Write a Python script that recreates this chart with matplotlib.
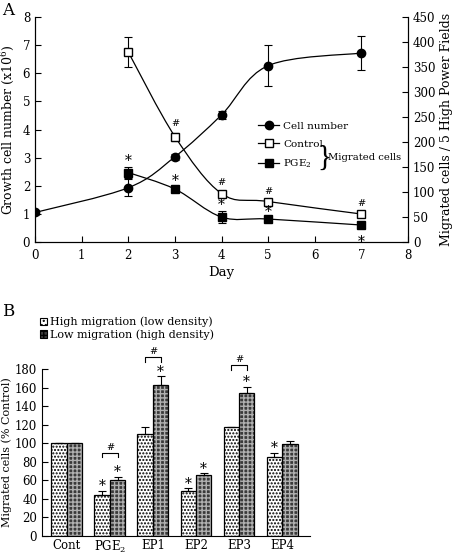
import numpy as np
import matplotlib
matplotlib.use("Agg")
import matplotlib.pyplot as plt
from matplotlib.path import Path
from matplotlib.patches import PathPatch, Patch
from matplotlib.lines import Line2D

plt.rcParams['font.family'] = 'DejaVu Serif'
plt.rcParams['mathtext.fontset'] = 'dejavuserif'

# ---- panel A data ----
days_cell = [0, 2, 3, 4, 5, 7]
cell_number = [1.05, 1.93, 3.03, 4.52, 6.27, 6.72]
cell_err = [0.08, 0.3, 0.1, 0.15, 0.72, 0.6]

days_mig = [2, 3, 4, 5, 7]
control = [380, 211, 97, 81, 56]
control_err = [30, 8, 4, 3, 3]
pge2 = [139, 106, 50, 46, 34]
pge2_err = [11, 5, 12, 3, 3]

# ---- panel B data ----
groups = ['Cont', 'PGE$_2$', 'EP1', 'EP2', 'EP3', 'EP4']
high_mig = [100, 44, 110, 49, 117, 85]
high_err = [0, 5, 8, 3, 1, 5]
low_mig = [100, 60, 163, 66, 154, 99]
low_err = [0, 4, 9, 2, 7, 3]
star_high = [False, True, False, True, False, True]
star_low = [False, True, True, True, True, False]
bracket_groups = [1, 2, 4]
bracket_level = [90, 193, 184]


def smooth_path(x, y):
    # excel-like smoothed line (bezier through the points)
    p = np.column_stack([x, y]).astype(float)
    verts = [p[0]]
    codes = [Path.MOVETO]
    n = len(p)
    for i in range(n - 1):
        p0 = p[i - 1] if i > 0 else p[i]
        p3 = p[i + 2] if i + 2 < n else p[i + 1]
        c1 = p[i] + (p[i + 1] - p0) / 6
        c2 = p[i + 1] - (p3 - p[i]) / 6
        verts += [c1, c2, p[i + 1]]
        codes += [Path.CURVE4] * 3
    return Path(verts, codes)


fig = plt.figure(figsize=(4.54, 5.56), dpi=100)

# ================= Panel A =================
ax = fig.add_axes([0.0771, 0.5647, 0.8216, 0.4047])
ax2 = ax.twinx()

ax.add_patch(PathPatch(smooth_path(days_cell, cell_number), fill=False,
                       lw=0.9, color='black'))
ax.errorbar(days_cell, cell_number, yerr=cell_err, fmt='o', color='black',
            ms=6, capsize=3, elinewidth=0.8, capthick=0.8)

ax2.add_patch(PathPatch(smooth_path(days_mig, control), fill=False,
                        lw=0.9, color='black'))
ax2.add_patch(PathPatch(smooth_path(days_mig, pge2), fill=False,
                        lw=0.9, color='black'))
ax2.errorbar(days_mig, control, yerr=control_err, fmt='s', mfc='white',
             mec='black', color='black', ms=6, capsize=3, elinewidth=0.8,
             capthick=0.8)
ax2.errorbar(days_mig, pge2, yerr=pge2_err, fmt='s', color='black',
             ms=6, capsize=3, elinewidth=0.8, capthick=0.8)

for d, v, e in zip(days_mig[1:], control[1:], control_err[1:]):
    ax2.annotate('#', (d, v + e), xytext=(0, 3), textcoords='offset points',
                 ha='center', va='bottom', fontsize=7)
for d, v, e in zip(days_mig[:-1], pge2[:-1], pge2_err[:-1]):
    ax2.annotate('*', (d, v + e), xytext=(0, -1), textcoords='offset points',
                 ha='center', va='bottom', fontsize=10)
ax2.annotate('*', (days_mig[-1], pge2[-1]), xytext=(0, -7),
             textcoords='offset points', ha='center', va='top', fontsize=10)

ax.set_xlim(0, 8)
ax.set_ylim(0, 8)
ax2.set_ylim(0, 450)
ax.set_xticks(range(0, 9))
ax.set_yticks(range(0, 9))
ax2.set_yticks(range(0, 451, 50))
for a in (ax, ax2):
    a.spines['top'].set_visible(False)
    a.tick_params(direction='in', length=4, width=0.8, labelsize=8.5)
ax.tick_params(axis='x', pad=5)
ax.set_xlabel('Day', fontsize=9.5, labelpad=3)
ax.set_ylabel('Growth cell number (x10$^6$)', fontsize=9, labelpad=5)
ax2.set_ylabel('Migrated cells / 5 High Power Fields', fontsize=9,
               labelpad=3)

handles = [
    Line2D([], [], color='black', marker='o', ms=6, lw=0.9),
    Line2D([], [], color='black', marker='s', mfc='white', ms=6, lw=0.9),
    Line2D([], [], color='black', marker='s', ms=6, lw=0.9),
]
ax.legend(handles, ['Cell number', 'Control', 'PGE$_2$'], loc='upper left',
          bbox_to_anchor=(0.585, 0.56), frameon=False, fontsize=7.5,
          handlelength=2.0, handletextpad=0.4, labelspacing=0.85,
          borderpad=0)
ax.text(0.757, 0.375, '}', transform=ax.transAxes, fontsize=21,
        family='Liberation Serif', ha='left', va='center')
ax.text(0.785, 0.375, 'Migrated cells', transform=ax.transAxes,
        fontsize=7.2, ha='left', va='center')

fig.text(0.005, 0.997, 'A', fontsize=12, ha='left', va='top')

# ================= Panel B =================
bx = fig.add_axes([0.0925, 0.036, 0.5903, 0.3003])
xpos = np.arange(len(groups))
w = 0.36

bx.bar(xpos - w / 2, high_mig, w, color='white', edgecolor='black',
       hatch='.....', lw=0)
bx.bar(xpos - w / 2, high_mig, w, fill=False, edgecolor='black', lw=0.9)
bx.bar(xpos + w / 2, low_mig, w, color='#3a3a3a', edgecolor='#b0b0b0',
       hatch='++++', lw=0)
bx.bar(xpos + w / 2, low_mig, w, fill=False, edgecolor='black', lw=0.9)
bx.errorbar(xpos - w / 2, high_mig, yerr=[np.zeros(len(groups)), high_err],
            fmt='none', ecolor='black', capsize=3, elinewidth=0.8,
            capthick=0.8)
bx.errorbar(xpos + w / 2, low_mig, yerr=[np.zeros(len(groups)), low_err],
            fmt='none', ecolor='black', capsize=3, elinewidth=0.8,
            capthick=0.8)

for i in range(len(groups)):
    if star_high[i]:
        bx.annotate('*', (xpos[i] - w / 2, high_mig[i] + high_err[i]),
                    xytext=(0, -2), textcoords='offset points', ha='center',
                    va='bottom', fontsize=10)
    if star_low[i]:
        bx.annotate('*', (xpos[i] + w / 2, low_mig[i] + low_err[i]),
                    xytext=(0, -2), textcoords='offset points', ha='center',
                    va='bottom', fontsize=10)

for g, lvl in zip(bracket_groups, bracket_level):
    x0, x1 = xpos[g] - w / 2, xpos[g] + w / 2
    bx.plot([x0, x0, x1, x1], [lvl - 5, lvl, lvl, lvl - 5], color='black',
            lw=0.8, clip_on=False)
    bx.text(xpos[g], lvl + 1, '#', ha='center', va='bottom', fontsize=7)

bx.set_xlim(-0.58, 5.65)
bx.set_ylim(0, 180)
bx.set_yticks(range(0, 181, 20))
bx.set_xticks(xpos)
bx.set_xticklabels(groups)
bx.spines['top'].set_visible(False)
bx.spines['right'].set_visible(False)
bx.tick_params(axis='y', direction='in', length=4, width=0.8, labelsize=8.5)
bx.tick_params(axis='x', length=0, labelsize=8.5, pad=2)
bx.set_ylabel('Migrated cells (% Control)', fontsize=8, labelpad=2)

leg_handles = [
    Patch(facecolor='white', edgecolor='black', hatch='....', lw=0.8),
    Patch(facecolor='#3a3a3a', edgecolor='black', hatch='++++', lw=0.8),
]
fig.legend(leg_handles, ['High migration (low density)',
                         'Low migration (high density)'],
           loc='upper left', bbox_to_anchor=(0.075, 0.44), frameon=False,
           fontsize=8, handlelength=0.7, handleheight=0.7,
           handletextpad=0.2, labelspacing=0.2, borderpad=0)

fig.text(0.005, 0.455, 'B', fontsize=12, ha='left', va='top')

fig.savefig('out.png', dpi=100)
